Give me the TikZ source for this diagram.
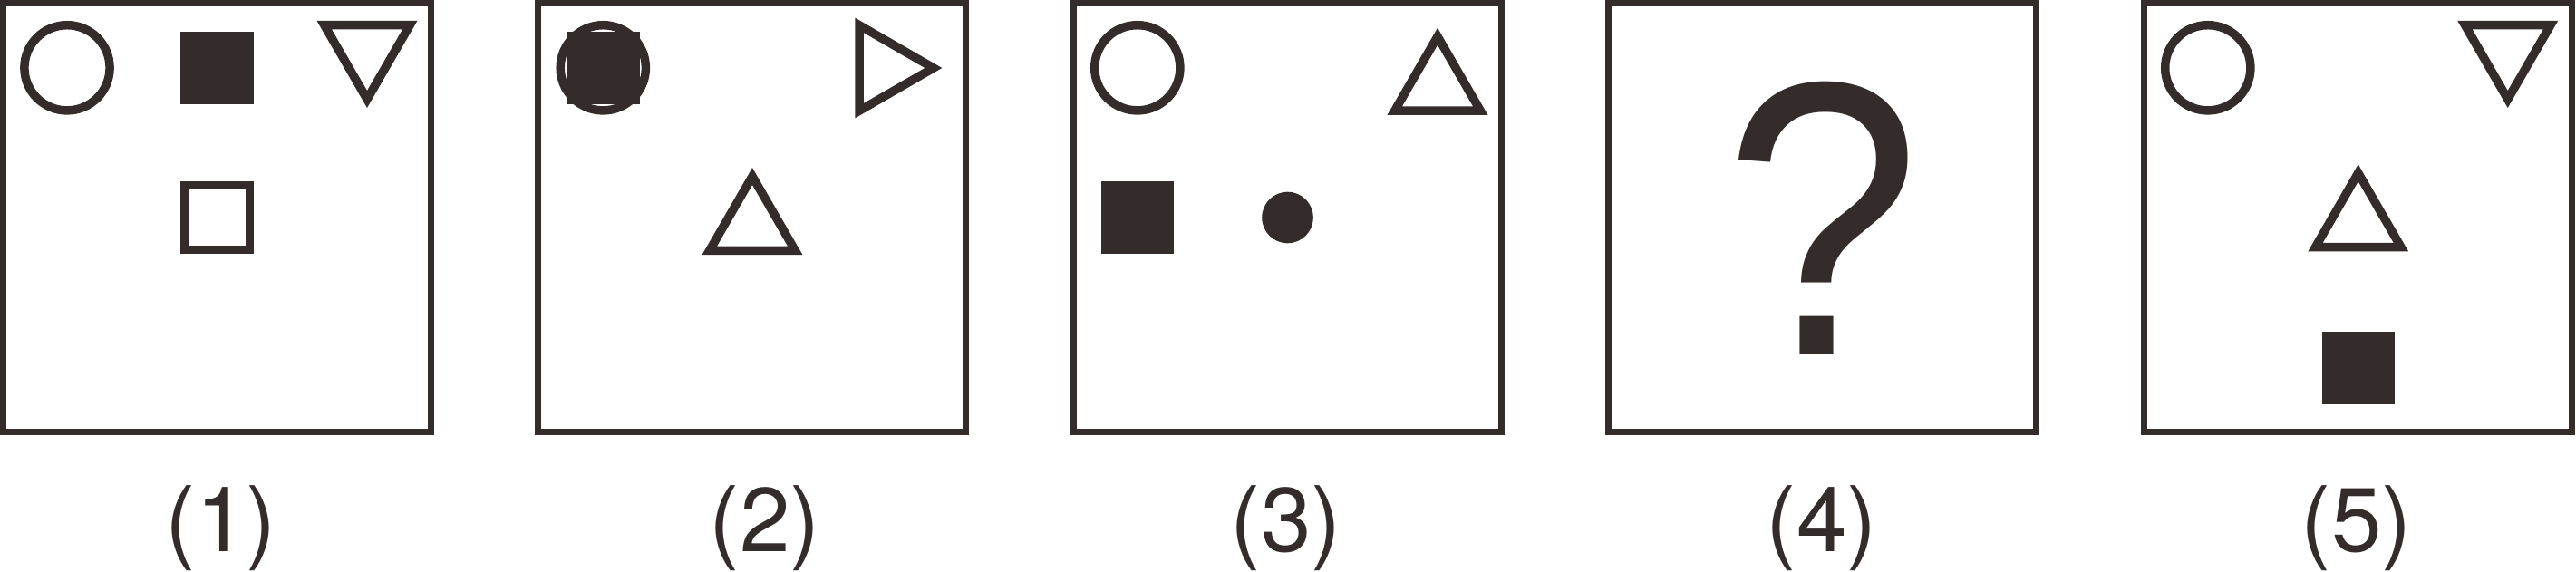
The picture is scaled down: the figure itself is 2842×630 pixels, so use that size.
\documentclass[tikz,border=0pt]{standalone}
\usepackage{fontspec}
\setmainfont{TeX Gyre Heros}
\newfontfamily\arialf{TeX Gyre Heros}
\newfontfamily\qmf{Liberation Sans}
\definecolor{ink}{RGB}{52,44,43}
\tikzset{
  frame/.style={draw=ink, line width=7.3pt},
  outl/.style={draw=ink, line width=9.5pt, line join=miter, miter limit=10},
  solid fill/.style={fill=ink, draw=none},
  lbl/.style={inner sep=0pt, anchor=base, text=ink, font=\arialf\fontsize{100}{120}\selectfont},
}
\begin{document}
\begin{tikzpicture}[x=1pt, y=-1pt]
\useasboundingbox (0,0) rectangle (2842,630);
\clip (0,0) rectangle (2842,630);
% frames
\foreach \xo in {0,590,1181,1771,2362}{
  \draw[frame] (\xo+3.65,3.65) rectangle (\xo+475.35,476.35);
}
% panel 1
\begin{scope}[xshift=0pt]
  \draw[outl] (74,74.8) circle[radius=47.1];
  \fill[solid fill] (199,34.7) rectangle (280,115);
  \draw[outl] (357.8,27.7) -- (452.2,27.7) -- (405,109.5) -- cycle;
  \draw[outl] (203.8,204.5) rectangle (275.3,275.5);
\end{scope}
% panel 2
\begin{scope}[xshift=590pt]
  \draw[outl] (75.3,74.8) circle[radius=47.1];
  \fill[solid fill] (35,34.7) rectangle (116,115);
  \draw[outl] (358,27.8) -- (358,122.2) -- (439.8,75) -- cycle;
  \draw[outl] (192.8,276.3) -- (287.2,276.3) -- (240,194.5) -- cycle;
\end{scope}
% panel 3
\begin{scope}[xshift=1181pt]
  \draw[outl] (73.8,74.8) circle[radius=47.1];
  \draw[outl] (357.8,122) -- (452.2,122) -- (405,40.2) -- cycle;
  \fill[solid fill] (34,200) rectangle (114,280);
  \fill[solid fill] (239.5,240) circle[radius=28.3];
\end{scope}
% panel 4
\node[inner sep=0pt, anchor=base, text=ink, font=\qmf\fontsize{415}{450}\selectfont, xscale=0.94, yscale=1.04] (qm) at (2011,391.7) {?};
% panel 5
\begin{scope}[xshift=2362pt]
  \draw[outl] (73.8,74.8) circle[radius=47.1];
  \draw[outl] (357.5,27.7) -- (451.9,27.7) -- (404.7,109.5) -- cycle;
  \draw[outl] (192.5,272.6) -- (286.9,272.6) -- (239.7,190.8) -- cycle;
  \fill[solid fill] (200,366) rectangle (280,446);
\end{scope}
% labels
\node[lbl] (l1) at (244,608.3) {(1)};
\node[lbl] (l2) at (844,608.3) {(2)};
\node[lbl] (l3) at (1419,608.3) {(3)};
\node[lbl] (l4) at (2010,608.3) {(4)};
\node[lbl] (l5) at (2600,608.3) {(5)};
\end{tikzpicture}
\end{document}
